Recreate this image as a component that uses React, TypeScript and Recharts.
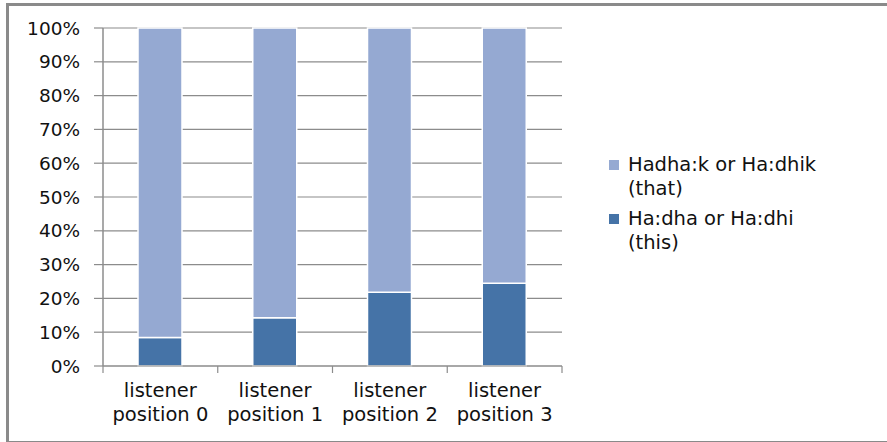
import { Bar, BarChart, CartesianGrid, Legend, XAxis, YAxis } from 'recharts'

const categories = ['listener position 0', 'listener position 1', 'listener position 2', 'listener position 3']
const thisShare = [0.084, 0.143, 0.218, 0.245]
const thatShare = [0.916, 0.857, 0.782, 0.755]
const yTicks = [0, 0.1, 0.2, 0.3, 0.4, 0.5, 0.6, 0.7, 0.8, 0.9, 1]

const seriesThis = { key: 'thisShare', name: 'Ha:dha or Ha:dhi', note: '(this)', color: '#4573A7' }
const seriesThat = { key: 'thatShare', name: 'Hadha:k or Ha:dhik', note: '(that)', color: '#95A9D2' }

const data = categories.map((label, i) => ({
  label,
  thisShare: thisShare[i],
  thatShare: thatShare[i],
}))

const FONT = '"DejaVu Sans", sans-serif'
const GRID = '#8c8c8c'

// label in two lines, plus the tick marks that sit between categories
function CategoryTick({ x, y, payload, index, visibleTicksCount }: any) {
  const text: string = payload.value
  const cut = text.indexOf(' ')
  const half = payload.offset ?? 0
  const last = index === visibleTicksCount - 1
  return (
    <g>
      <line x1={x - half} x2={x - half} y1={y} y2={y + 7} stroke={GRID} strokeWidth={1.2} />
      {last ? <line x1={x + half} x2={x + half} y1={y} y2={y + 7} stroke={GRID} strokeWidth={1.2} /> : null}
      <text x={x} y={y} textAnchor="middle" fill="#111" fontFamily={FONT} fontSize={19.5}>
        <tspan x={x} dy={31}>{text.slice(0, cut)}</tspan>
        <tspan x={x} dy={24}>{text.slice(cut + 1)}</tspan>
      </text>
    </g>
  )
}

function LegendBox() {
  // "that" listed first, like the original
  const items = [seriesThat, seriesThis]
  return (
    <div style={{ fontFamily: FONT, fontSize: 19.5, lineHeight: '24px', color: '#111' }}>
      {items.map((s) => (
        <div key={s.key} style={{ position: 'relative', paddingLeft: 19, marginBottom: 6 }}>
          <span
            style={{ position: 'absolute', left: 0, top: 7, width: 10, height: 10, background: s.color }}
          />
          <div style={{ whiteSpace: 'nowrap' }}>{s.name}</div>
          <div>{s.note}</div>
        </div>
      ))}
    </div>
  )
}

export default function App() {
  return (
    <div style={{ position: 'absolute', left: 0, top: 0, width: 887, height: 442, overflow: 'hidden', background: '#fff' }}>
      <div
        style={{
          position: 'absolute',
          left: 6,
          top: 3,
          width: 900,
          height: 435,
          borderTop: '3px solid #8a8a8a',
          borderLeft: '3px solid #8a8a8a',
          borderBottom: '3px solid #8a8a8a',
        }}
      />
      <div style={{ position: 'absolute', left: 0, top: 0 }}>
        <BarChart width={887} height={442} data={data} margin={{ top: 28, right: 325, bottom: 0, left: 0 }}>
          <CartesianGrid vertical={false} stroke={GRID} strokeWidth={1.2} />
          <XAxis
            dataKey="label"
            height={76}
            axisLine={{ stroke: GRID, strokeWidth: 1.2 }}
            tickLine={false}
            tickSize={0}
            tickMargin={0}
            interval={0}
            tick={<CategoryTick />}
          />
          <YAxis
            width={103}
            domain={[0, 1]}
            ticks={yTicks}
            interval={0}
            tickFormatter={(v: number) => `${Math.round(v * 100)}%`}
            axisLine={{ stroke: GRID, strokeWidth: 1.5 }}
            tickLine={{ stroke: GRID, strokeWidth: 1.2 }}
            tickSize={9}
            tickMargin={14}
            tick={{ fill: '#111', fontFamily: FONT, fontSize: 18.5 }}
          />
          <Legend
            layout="vertical"
            align="center"
            verticalAlign="middle"
            wrapperStyle={{ left: 609, top: 153, width: 270 }}
            content={<LegendBox />}
          />
          <Bar
            dataKey={seriesThis.key}
            name={seriesThis.name}
            stackId="a"
            fill={seriesThis.color}
            stroke="#fff"
            strokeWidth={1.5}
            barSize={44}
            isAnimationActive={false}
          />
          <Bar
            dataKey={seriesThat.key}
            name={seriesThat.name}
            stackId="a"
            fill={seriesThat.color}
            stroke="#fff"
            strokeWidth={1.5}
            barSize={44}
            isAnimationActive={false}
          />
        </BarChart>
      </div>
    </div>
  )
}
